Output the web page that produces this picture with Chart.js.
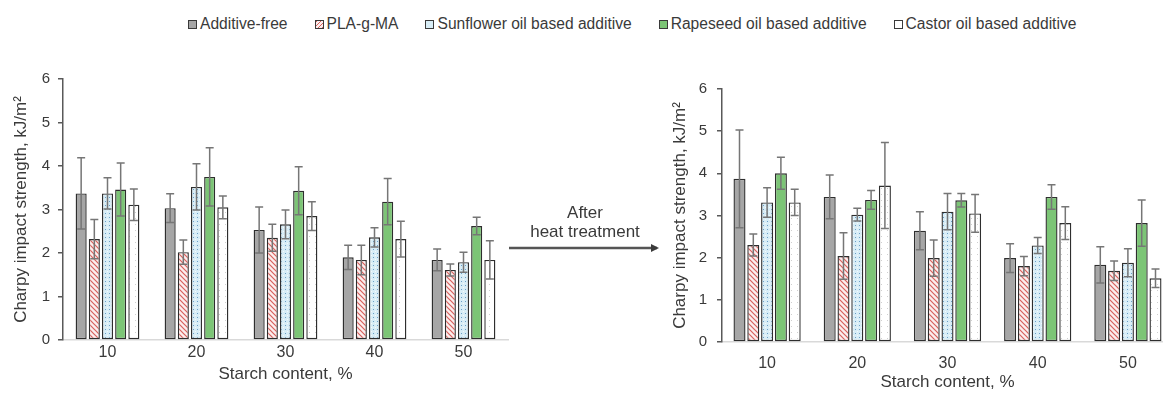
<!DOCTYPE html>
<html lang="en">
<head>
    <meta charset="UTF-8">
    <title>Charpy impact strength</title>
    <script src="https://cdn.jsdelivr.net/npm/chart.js"></script>
    <style>
        body { margin: 0; width: 1163px; height: 393px; overflow: hidden; background: #fff; position: relative;
               font-family: "Liberation Sans", Arial, sans-serif; color: #3a3a3a; }
        .legend { position: absolute; top: 15px; left: 188px; display: flex; gap: 27px; font-size: 15.6px; white-space: nowrap; }
        .legend span.item { display: flex; align-items: center; }
        .legend i { display: inline-block; width: 7px; height: 7px; border: 1px solid #3a3a3a; margin-right: 3px; }
        #before { position: absolute; left: 0; top: 60px; }
        #after { position: absolute; left: 650px; top: 60px; }
        svg { position: absolute; left: 0; top: 0; }
    </style>
</head>
<body>
    <div class="legend" id="legend"></div>
    <canvas id="before" width="520" height="333"></canvas>
    <canvas id="after" width="523" height="333"></canvas>
    <svg width="1163" height="393">
        <defs>
            <marker id="head" markerWidth="8" markerHeight="8" refX="6" refY="4" orient="auto" markerUnits="userSpaceOnUse">
                <path d="M0,0 L8,4 L0,8 z" fill="#3a3a3a"/>
            </marker>
        </defs>
        <text x="585" y="218" text-anchor="middle" font-size="17" fill="#3a3a3a">After</text>
        <text x="585" y="237" text-anchor="middle" font-size="17" fill="#3a3a3a">heat treatment</text>
        <line x1="509" y1="248" x2="657" y2="248" stroke="#555" stroke-width="2.5" marker-end="url(#head)"/>
    </svg>

    <script>
        const starch = ['10', '20', '30', '40', '50'];
        const seriesNames = ['Additive-free', 'PLA-g-MA', 'Sunflower oil based additive',
                             'Rapeseed oil based additive', 'Castor oil based additive'];

        // before heat treatment: means and standard deviations
        const freeBefore = [3.37, 3.03, 2.53, 1.90, 1.84];
        const freeBeforeSd = [0.82, 0.33, 0.53, 0.28, 0.25];
        const plaBefore = [2.32, 2.02, 2.35, 1.84, 1.61];
        const plaBeforeSd = [0.45, 0.28, 0.31, 0.34, 0.14];
        const sunBefore = [3.37, 3.52, 2.66, 2.36, 1.79];
        const sunBeforeSd = [0.36, 0.53, 0.33, 0.22, 0.23];
        const rapeBefore = [3.46, 3.75, 3.43, 3.18, 2.62];
        const rapeBeforeSd = [0.61, 0.67, 0.55, 0.53, 0.20];
        const castorBefore = [3.11, 3.05, 2.85, 2.32, 1.84];
        const castorBeforeSd = [0.36, 0.26, 0.33, 0.41, 0.44];

        // after heat treatment
        const freeAfter = [3.87, 3.44, 2.64, 1.99, 1.83];
        const freeAfterSd = [1.16, 0.52, 0.45, 0.34, 0.43];
        const plaAfter = [2.30, 2.04, 1.99, 1.80, 1.69];
        const plaAfterSd = [0.26, 0.55, 0.43, 0.23, 0.23];
        const sunAfter = [3.31, 3.02, 3.09, 2.29, 1.88];
        const sunAfterSd = [0.35, 0.15, 0.43, 0.19, 0.33];
        const rapeAfter = [4.00, 3.37, 3.36, 3.44, 2.82];
        const rapeAfterSd = [0.38, 0.22, 0.16, 0.29, 0.55];
        const castorAfter = [3.31, 3.71, 3.05, 2.82, 1.51];
        const castorAfterSd = [0.31, 1.02, 0.45, 0.39, 0.22];

        const yTicks = [0, 1, 2, 3, 4, 5, 6];

        function makePattern(w, h, draw) {
            const c = document.createElement('canvas');
            c.width = w; c.height = h;
            const g = c.getContext('2d');
            draw(g, w, h);
            return g.createPattern(c, 'repeat');
        }

        const hatch = makePattern(5, 5, (g, w, h) => {
            g.fillStyle = '#fbeeee'; g.fillRect(0, 0, w, h);
            g.strokeStyle = '#d8605c'; g.lineWidth = 1.2;
            g.beginPath();
            g.moveTo(-1, -1); g.lineTo(w + 1, h + 1);
            g.moveTo(w - 1, -1); g.lineTo(w + 1, 1);
            g.moveTo(-1, h - 1); g.lineTo(1, h + 1);
            g.stroke();
        });
        const dots = makePattern(4, 4, (g, w, h) => {
            g.fillStyle = '#d8edf6'; g.fillRect(0, 0, w, h);
            g.fillStyle = '#6a9fc8'; g.fillRect(1, 1, 1, 1);
            g.fillStyle = '#f4fafd'; g.fillRect(3, 3, 1, 1);
        });
        const faint = makePattern(6, 6, (g, w, h) => {
            g.fillStyle = '#ffffff'; g.fillRect(0, 0, w, h);
            g.fillStyle = '#cfcfcf'; g.fillRect(3, 2, 1, 1);
        });

        const fills = ['#a6a6a6', hatch, dots, '#7cc576', faint];
        const swatches = ['#a6a6a6',
            'repeating-linear-gradient(-45deg, #d8605c 0 1px, #fbeeee 1px 3px)',
            '#d8edf6', '#7cc576', '#ffffff'];

        // html legend shared by both panels
        const legend = document.getElementById('legend');
        seriesNames.forEach((name, i) => {
            const item = document.createElement('span');
            item.className = 'item';
            item.innerHTML = `<i style="background:${swatches[i]}"></i>${name}`;
            legend.appendChild(item);
        });

        const errorBars = {
            id: 'errorBars',
            afterDatasetsDraw(chart) {
                const { ctx } = chart;
                const y = chart.scales.y;
                ctx.save();
                ctx.strokeStyle = '#767676';
                ctx.lineWidth = 1.5;
                chart.data.datasets.forEach((ds, i) => {
                    chart.getDatasetMeta(i).data.forEach((bar, j) => {
                        const top = y.getPixelForValue(ds.data[j] + ds.errors[j]);
                        const bot = y.getPixelForValue(ds.data[j] - ds.errors[j]);
                        ctx.beginPath();
                        ctx.moveTo(bar.x, top); ctx.lineTo(bar.x, bot);
                        ctx.moveTo(bar.x - 4, top); ctx.lineTo(bar.x + 4, top);
                        ctx.moveTo(bar.x - 4, bot); ctx.lineTo(bar.x + 4, bot);
                        ctx.stroke();
                    });
                });
                ctx.restore();
            }
        };

        function buildChart(id, values, errors, cfg) {
            const datasets = values.map((v, i) => ({
                label: seriesNames[i],
                data: v,
                errors: errors[i],
                backgroundColor: fills[i],
                borderColor: '#2e2e2e',
                borderWidth: 1.4,
                borderSkipped: false,
                categoryPercentage: cfg.cat,
                barPercentage: cfg.bar
            }));
            return new Chart(document.getElementById(id), {
                type: 'bar',
                data: { labels: starch, datasets },
                plugins: [errorBars],
                options: {
                    responsive: false,
                    animation: false,
                    layout: { padding: { top: cfg.top, right: cfg.right, left: 0, bottom: 0 } },
                    plugins: { legend: { display: false }, tooltip: { enabled: false } },
                    scales: {
                        x: {
                            grid: { display: false, drawTicks: false },
                            border: { color: '#d9d9d9', width: 1.5 },
                            ticks: { color: '#3a3a3a', font: { size: 16, family: '"Liberation Sans", Arial' }, padding: cfg.xPad },
                            title: { display: true, text: 'Starch content, %', color: '#3a3a3a',
                                     font: { size: 17, family: '"Liberation Sans", Arial' }, padding: { top: 0, bottom: cfg.titleBottom } },
                            afterFit: s => { s.height = cfg.xHeight; }
                        },
                        y: {
                            min: 0, max: 6,
                            afterBuildTicks: s => { s.ticks = yTicks.map(v => ({ value: v })); },
                            grid: { drawOnChartArea: false, drawTicks: true, tickLength: 5, color: '#595959', lineWidth: 1.5 },
                            border: { color: '#595959', width: 1.5 },
                            ticks: { color: '#3a3a3a', font: { size: 15, family: '"Liberation Sans", Arial' }, padding: cfg.yPad },
                            title: { display: true, text: 'Charpy impact strength, kJ/m²', color: '#3a3a3a',
                                     font: { size: 17, family: '"Liberation Sans", Arial' }, padding: { top: cfg.yTitle, bottom: 0 } },
                            afterFit: s => { s.width = cfg.yWidth; }
                        }
                    }
                }
            });
        }

        buildChart('before',
            [freeBefore, plaBefore, sunBefore, rapeBefore, castorBefore],
            [freeBeforeSd, plaBeforeSd, sunBeforeSd, rapeBeforeSd, castorBeforeSd],
            { cat: 0.74, bar: 0.84, top: 19, right: 12, xHeight: 53, yWidth: 63, xPad: 3, yPad: 8, yTitle: 11, titleBottom: 8 });

        buildChart('after',
            [freeAfter, plaAfter, sunAfter, rapeAfter, castorAfter],
            [freeAfterSd, plaAfterSd, sunAfterSd, rapeAfterSd, castorAfterSd],
            { cat: 0.765, bar: 0.87, top: 29, right: 0, xHeight: 51, yWidth: 72, xPad: 12, yPad: 10, yTitle: 20, titleBottom: 0 });
    </script>
</body>
</html>
